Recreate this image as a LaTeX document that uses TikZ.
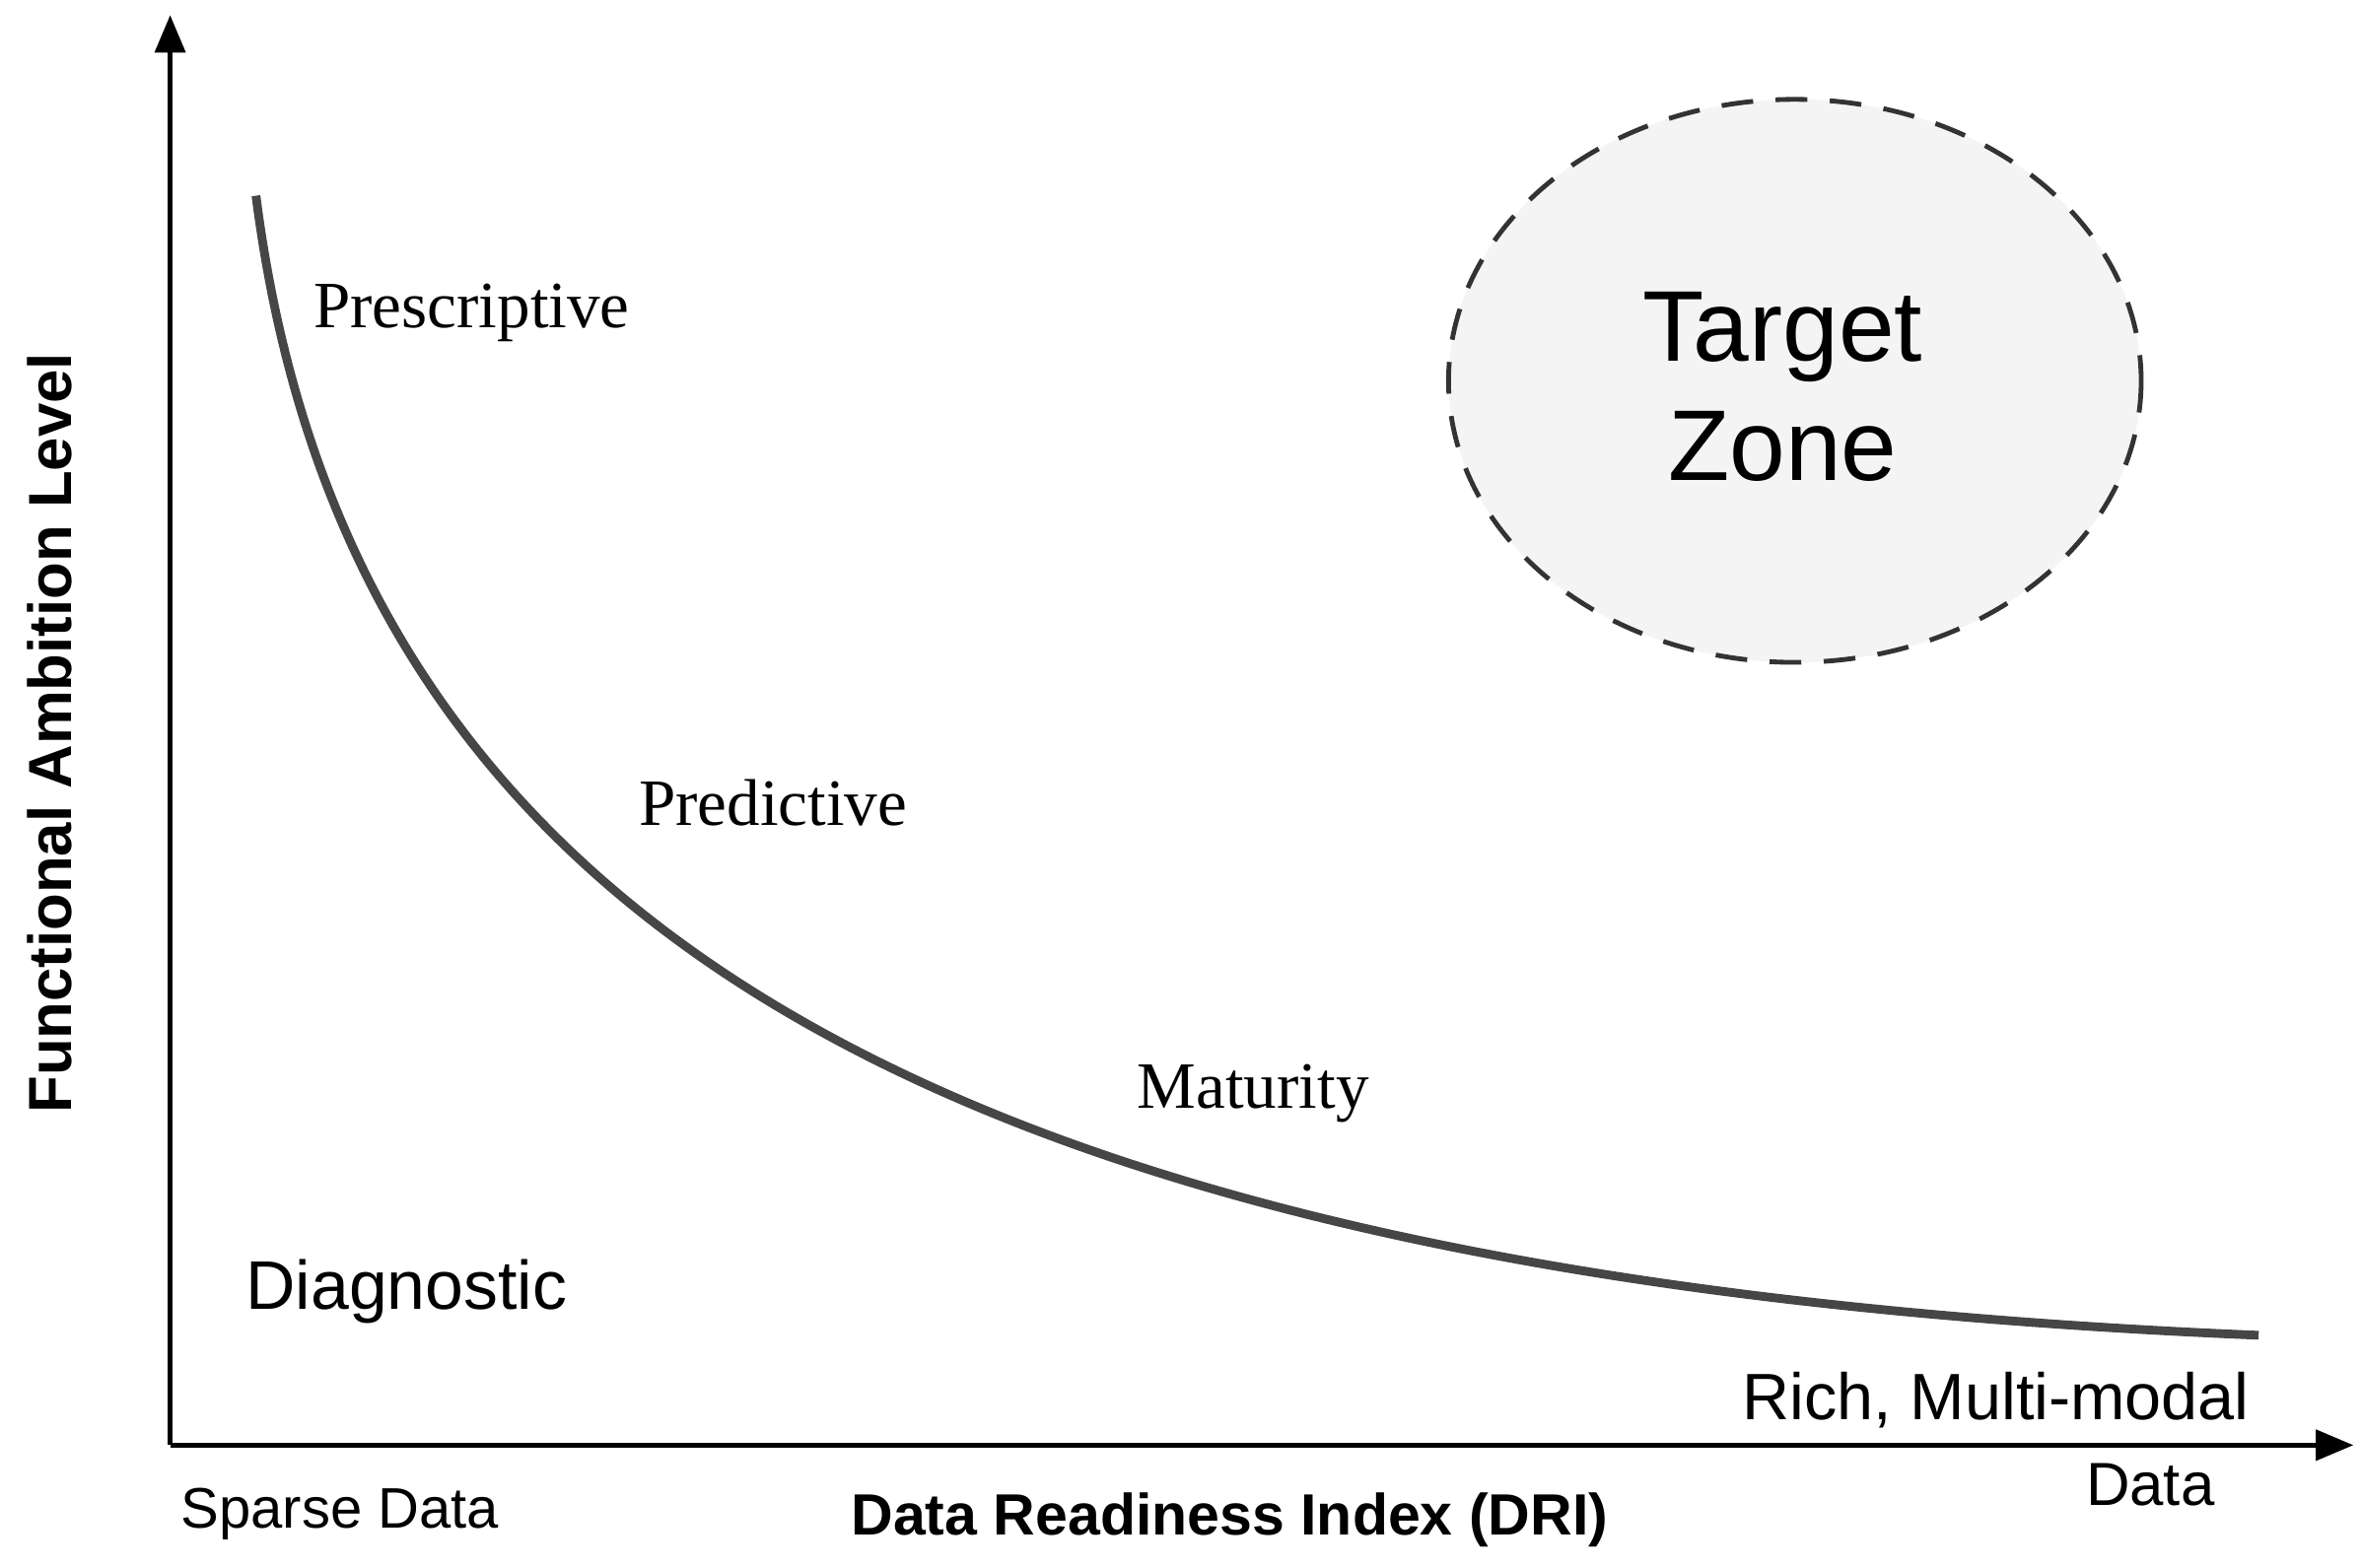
\documentclass[tikz,border=0pt]{standalone}
\usepackage{fontspec}
\setmainfont{Liberation Serif}
\setsansfont{Liberation Sans}
\usetikzlibrary{arrows.meta}
\definecolor{curvegray}{HTML}{464646}
\definecolor{zonefill}{HTML}{F4F4F4}
\definecolor{zoneline}{HTML}{333333}
\tikzset{
  axisline/.style={line width=2pt, black, -{Triangle[length=0.5cm,width=0.4cm]}},
  curveline/.style={line width=3.3pt, curvegray},
  zonestyle/.style={draw=zoneline, fill=zonefill, dash pattern=on 12pt off 8.5pt, line width=1.8pt},
  serlabel/.style={font=\fontsize{25}{28}\selectfont\rmfamily, inner sep=0pt, anchor=base west},
  sanslabel/.style={font=\fontsize{24.8}{28}\selectfont\sffamily, inner sep=0pt, anchor=base west},
}
\begin{document}
\begin{tikzpicture}[x=0.02cm, y=-0.02cm]
\useasboundingbox (0,0) rectangle (1568,1041);
\coordinate (O) at (113,960);
\coordinate (ytip) at (113,10);
\coordinate (xtip) at (1563,960);
\coordinate (cstart) at (170,130);
\coordinate (cend) at (1500,887);
% target zone
\draw[zonestyle] (1192,253) ellipse [x radius=230, y radius=187];
\node[font=\fontsize{38}{45}\selectfont\sffamily, align=center, inner sep=0pt] (tz) at (1184,257) {Target\\Zone};
% axes
\draw[axisline] (O) -- (ytip);
\draw[axisline] (O) -- (xtip);
% curve
\draw[curveline] (cstart) .. controls (230,600) and (600,850) .. (cend);
% labels
\node[serlabel] (pres) at (208,218) {Prescriptive};
\node[serlabel] (pred) at (424,548) {Predictive};
\node[serlabel] (mat) at (755,736) {Maturity};
\node[sanslabel, font=\fontsize{26}{30}\selectfont\sffamily] (diag) at (163,870) {Diagnostic};
\node[sanslabel] (rich) at (1157,943) {Rich, Multi-modal};
\node[sanslabel, font=\fontsize{23}{28}\selectfont\sffamily] (data) at (1385,1000) {Data};
\node[sanslabel, font=\fontsize{21.6}{28}\selectfont\sffamily] (sparse) at (120,1015) {Sparse Data};
\node[sanslabel, font=\fontsize{22}{28}\selectfont\sffamily\bfseries] (xlab) at (565,1020) {Data Readiness Index (DRI)};
\node[font=\fontsize{23}{28}\selectfont\sffamily\bfseries, inner sep=0pt, rotate=90] (ylab) at (33,487) {Functional Ambition Level};
\end{tikzpicture}
\end{document}
